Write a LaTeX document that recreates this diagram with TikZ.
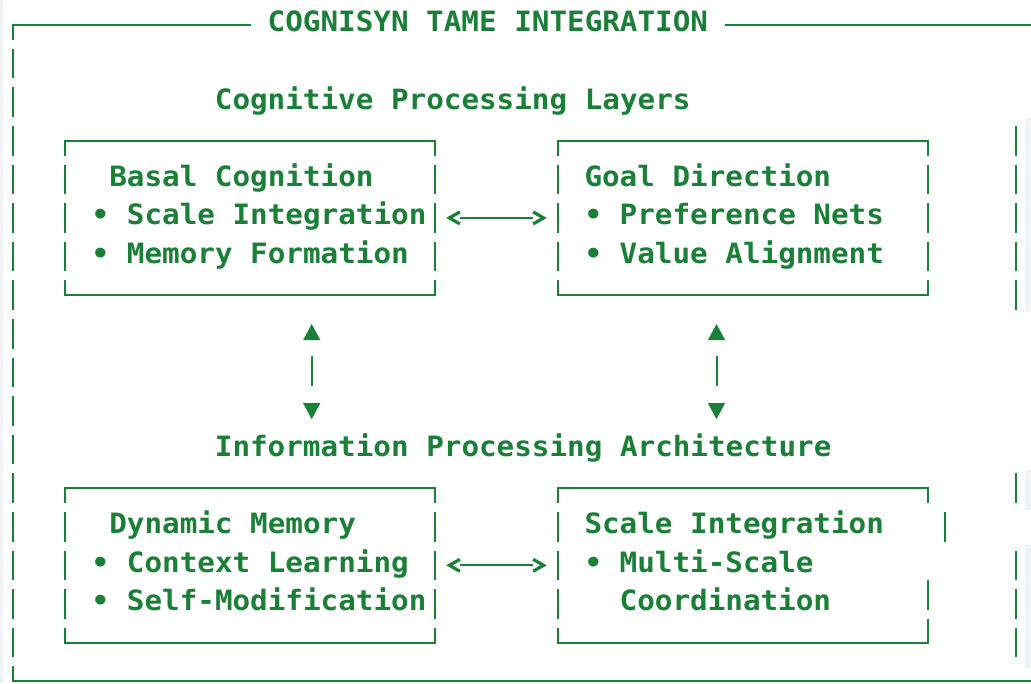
\documentclass[tikz,border=0pt]{standalone}
\usepackage{fontspec}
\newfontfamily\asciifont[FakeStretch=1.045]{DejaVu Sans Mono}
\usetikzlibrary{arrows.meta}
\definecolor{ink}{RGB}{26,127,55}
\definecolor{edgegray}{RGB}{241,242,244}
% character grid: column centres and row centres
\pgfmathdeclarefunction{colx}{1}{\pgfmathparse{12.5+17.6*(#1)}}
\pgfmathdeclarefunction{rowy}{1}{\pgfmathparse{24.9+38.6*(#1)}}
% one line of text starting at a grid column
\newcommand\gridtext[4]{\node[lbl] (#1) at ({colx(#2)-8.8},{rowy(#3)+7}) {#4};}
% box outline: solid top and bottom, broken left side
\newcommand\gridframeleft[1]{%
  \draw[hline] (#1.north west) -- (#1.north east);
  \draw[hline] (#1.south west) -- (#1.south east);
  \draw[vbar, dash phase=14.8pt] (#1.north west) -- (#1.south west);}
% full box outline
\newcommand\gridframe[1]{%
  \gridframeleft{#1}
  \draw[vbar, dash phase=14.8pt] (#1.north east) -- (#1.south east);}
\begin{document}
\begin{tikzpicture}[x=1pt,y=-1pt,
  lbl/.style={anchor=base west, inner sep=0pt, outer sep=0pt, text=ink,
    font=\asciifont\bfseries\fontsize{28pt}{38.6pt}\selectfont},
  boxarea/.style={rectangle, inner sep=0pt, outer sep=0pt},
  hline/.style={draw=ink, line width=2pt, line cap=rect},
  vbar/.style={draw=ink, line width=2pt, dash pattern=on 29.6pt off 9pt},
  hconn/.style={draw=ink, line width=2pt, shorten <=25pt, shorten >=25pt},
  chev/.style={draw=ink, line width=3.2pt, line join=miter},
  vconn/.style={draw=ink, line width=2pt,
    {Triangle[length=16pt,width=17pt,line width=1pt]}-{Triangle[length=16pt,width=17pt,line width=1pt]},
    dash pattern=on 0pt off 16pt on 30pt off 200pt}]
\fill[white] (0,0) rectangle (1031,683);
\useasboundingbox (0,0) rectangle (1031,683);
\fill[edgegray] (0,0) rectangle (3,683);
\fill[edgegray] (1025,118) rectangle (1031,312);
\fill[edgegray] (1025,470) rectangle (1031,510);
\fill[edgegray] (1025,545) rectangle (1031,668);

% outer frame
\coordinate (tl) at ({colx(0)},{rowy(0)});
\coordinate (bl) at ({colx(0)},{rowy(17)});
\coordinate (tr) at (1031,{rowy(0)});
\coordinate (br) at (1031,{rowy(17)});
\gridtext{title}{15}{0}{COGNISYN TAME INTEGRATION}
\draw[hline] (tl) -- ([xshift=-17.6pt]title.base west |- tl);
\draw[hline] ([xshift=17.6pt]title.base east |- tl) -- (tr);
\draw[vbar, dash phase=14.8pt] (tl) -- (bl);
\draw[hline] (bl) -- (br);

% section headings
\gridtext{layersHead}{12}{2}{Cognitive Processing Layers}
\gridtext{archHead}{12}{11}{Information Processing Architecture}

% boxes
\node[boxarea, minimum width=369.6pt, minimum height=154.4pt] (basal)
  at ({(colx(3)+colx(24))/2},{rowy(5)}) {};
\node[boxarea, minimum width=369.6pt, minimum height=154.4pt] (goal)
  at ({(colx(31)+colx(52))/2},{rowy(5)}) {};
\node[boxarea, minimum width=369.6pt, minimum height=154.4pt] (dynmem)
  at ({(colx(3)+colx(24))/2},{rowy(14)}) {};
\node[boxarea, minimum width=369.6pt, minimum height=154.4pt] (scaleint)
  at ({(colx(31)+colx(52))/2},{rowy(14)}) {};
\gridframe{basal}
\gridframe{goal}
\gridframe{dynmem}
\gridframeleft{scaleint}
% right side of the last box: its heading row carries the bar one column further out
\draw[vbar, dash phase=14.8pt] (scaleint.north east) -- ++(0,14.8);
\draw[vbar] ([yshift=-{38.6*2-14.8}pt]scaleint.north east) -- (scaleint.south east);
\draw[vbar] ({colx(53)},{rowy(13)-14.8}) -- ({colx(53)},{rowy(13)+14.8});

% box contents
\gridtext{basalT}{6}{4}{Basal Cognition}
\gridtext{basalA}{5}{5}{• Scale Integration}
\gridtext{basalB}{5}{6}{• Memory Formation}
\gridtext{goalT}{33}{4}{Goal Direction}
\gridtext{goalA}{33}{5}{• Preference Nets}
\gridtext{goalB}{33}{6}{• Value Alignment}
\gridtext{dynT}{6}{13}{Dynamic Memory}
\gridtext{dynA}{5}{14}{• Context Learning}
\gridtext{dynB}{5}{15}{• Self-Modification}
\gridtext{scaleT}{33}{13}{Scale Integration}
\gridtext{scaleA}{33}{14}{• Multi-Scale}
\gridtext{scaleB}{35}{15}{Coordination}

% horizontal two-way links
\draw[hconn] (basal.east) -- (goal.west);
\draw[chev] ([xshift=25pt,yshift=6pt]basal.east) -- ([xshift=14.5pt]basal.east) -- ([xshift=25pt,yshift=-6pt]basal.east);
\draw[chev] ([xshift=-25pt,yshift=6pt]goal.west) -- ([xshift=-14.5pt]goal.west) -- ([xshift=-25pt,yshift=-6pt]goal.west);
\draw[hconn] (dynmem.east) -- (scaleint.west);
\draw[chev] ([xshift=25pt,yshift=6pt]dynmem.east) -- ([xshift=14.5pt]dynmem.east) -- ([xshift=25pt,yshift=-6pt]dynmem.east);
\draw[chev] ([xshift=-25pt,yshift=6pt]scaleint.west) -- ([xshift=-14.5pt]scaleint.west) -- ([xshift=-25pt,yshift=-6pt]scaleint.west);

% vertical two-way links between the layers
\coordinate (vxa) at ({colx(17)},0);
\coordinate (vxb) at ({colx(40)},0);
\draw[vconn, shorten <=29pt, shorten >=69pt] (basal.south -| vxa) -- (dynmem.north -| vxa);
\draw[vconn, shorten <=29pt, shorten >=69pt] (goal.south -| vxb) -- (scaleint.north -| vxb);

% trailing bars on the right
\draw[vbar] ({colx(57)},{rowy(3)-14.8}) -- ({colx(57)},{rowy(7)+14.8});
\draw[vbar] ({colx(57)},{rowy(12)-14.8}) -- ({colx(57)},{rowy(12)+14.8});
\draw[vbar] ({colx(57)},{rowy(14)-14.8}) -- ({colx(57)},{rowy(16)+14.8});
\end{tikzpicture}
\end{document}
